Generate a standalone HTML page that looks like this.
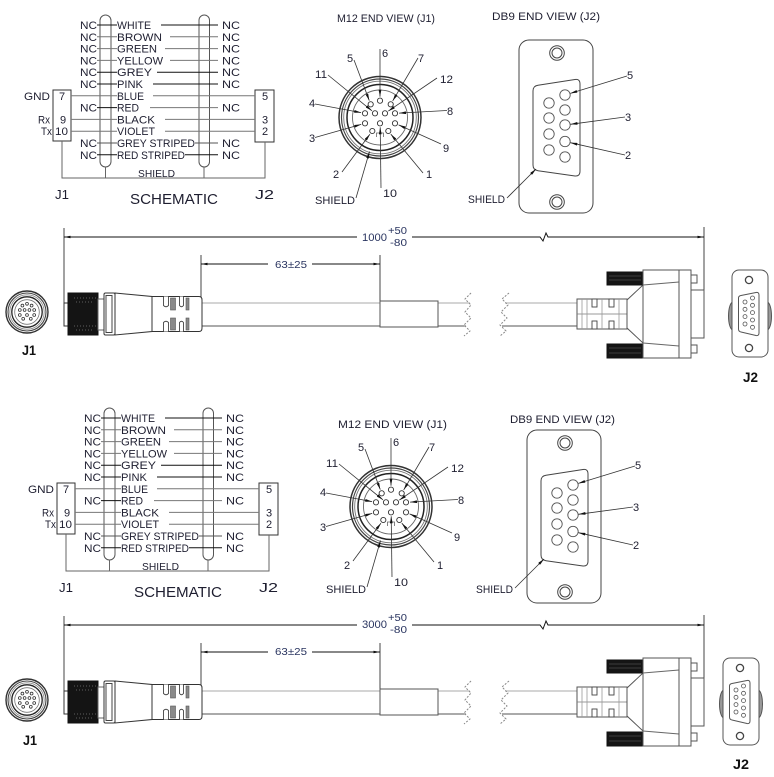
<!DOCTYPE html>
<html><head><meta charset="utf-8">
<style>
html,body{margin:0;padding:0;background:#fff;}
svg{display:block;}
text{font-family:"Liberation Sans",sans-serif;fill:#1e1e30;}
.b{font-weight:bold;fill:#111;}
.d{fill:#2a3560;}
</style></head><body>
<svg width="774" height="777" viewBox="0 0 774 777" xmlns="http://www.w3.org/2000/svg">
<defs>
<marker id="la" viewBox="0 0 10 4" refX="10" refY="2" markerWidth="7" markerHeight="2.8" markerUnits="userSpaceOnUse" orient="auto"><path d="M0,0L10,2L0,4z" fill="#111"/></marker>
<marker id="da" viewBox="0 0 10 4" refX="10" refY="2" markerWidth="8" markerHeight="2.6" markerUnits="userSpaceOnUse" orient="auto"><path d="M0,0L10,2L0,4z" fill="#111"/></marker>
</defs>

<!-- ================= SCHEMATIC LINES (top) ================= -->
<g id="schl" fill="none" stroke="#333" stroke-width="1">
 <rect x="100" y="15" width="11" height="152" rx="5.5" stroke="#555"/>
 <rect x="199" y="15" width="10.5" height="152" rx="5.25" stroke="#555"/>
 <rect x="53" y="90" width="18" height="51"/>
 <rect x="255" y="90" width="19" height="52"/>
 <polyline points="62,141 62,178 265,178 265,142" stroke="#666"/>
 <line x1="105.5" y1="167" x2="105.5" y2="178" stroke="#666"/>
 <line x1="204" y1="167" x2="204" y2="178" stroke="#666"/>
 <line x1="97" y1="25" x2="117" y2="25" stroke="#111"/>
 <line x1="97" y1="36.8" x2="117" y2="36.8" stroke="#777"/>
 <line x1="97" y1="48.6" x2="117" y2="48.6" stroke="#777"/>
 <line x1="97" y1="60.4" x2="117" y2="60.4" stroke="#777"/>
 <line x1="97" y1="72.2" x2="117" y2="72.2" stroke="#111"/>
 <line x1="97" y1="84" x2="117" y2="84" stroke="#111"/>
 <line x1="71" y1="95.8" x2="117" y2="95.8" stroke="#777"/>
 <line x1="97" y1="107.6" x2="117" y2="107.6" stroke="#111"/>
 <line x1="71" y1="119.4" x2="117" y2="119.4" stroke="#777"/>
 <line x1="71" y1="131.2" x2="117" y2="131.2" stroke="#777"/>
 <line x1="97" y1="143" x2="117" y2="143" stroke="#555"/>
 <line x1="97" y1="154.8" x2="117" y2="154.8" stroke="#111"/>
 <line x1="161" y1="25" x2="218" y2="25" stroke="#111"/>
 <line x1="170" y1="36.8" x2="218" y2="36.8" stroke="#777"/>
 <line x1="165" y1="48.6" x2="218" y2="48.6" stroke="#777"/>
 <line x1="170" y1="60.4" x2="218" y2="60.4" stroke="#777"/>
 <line x1="157" y1="72.2" x2="218" y2="72.2" stroke="#111"/>
 <line x1="153" y1="84" x2="218" y2="84" stroke="#111"/>
 <line x1="153" y1="95.8" x2="255" y2="95.8" stroke="#777"/>
 <line x1="150" y1="107.6" x2="218" y2="107.6" stroke="#777"/>
 <line x1="165" y1="119.4" x2="255" y2="119.4" stroke="#777"/>
 <line x1="165" y1="131.2" x2="255" y2="131.2" stroke="#777"/>
 <line x1="195" y1="143" x2="218" y2="143" stroke="#555"/>
 <line x1="185" y1="154.8" x2="218" y2="154.8" stroke="#111"/>
</g>
<use href="#schl" transform="translate(4,393)"/>

<g font-size="11">
 <text x="80" y="29" textLength="17" lengthAdjust="spacingAndGlyphs">NC</text>
 <text x="80" y="40.8" textLength="17" lengthAdjust="spacingAndGlyphs">NC</text>
 <text x="80" y="52.6" textLength="17" lengthAdjust="spacingAndGlyphs">NC</text>
 <text x="80" y="64.4" textLength="17" lengthAdjust="spacingAndGlyphs">NC</text>
 <text x="80" y="76.2" textLength="17" lengthAdjust="spacingAndGlyphs">NC</text>
 <text x="80" y="88" textLength="17" lengthAdjust="spacingAndGlyphs">NC</text>
 <text x="80" y="111.6" textLength="17" lengthAdjust="spacingAndGlyphs">NC</text>
 <text x="80" y="147" textLength="17" lengthAdjust="spacingAndGlyphs">NC</text>
 <text x="80" y="158.8" textLength="17" lengthAdjust="spacingAndGlyphs">NC</text>
 <text x="117" y="29" textLength="34" lengthAdjust="spacingAndGlyphs">WHITE</text>
 <text x="117" y="40.8" textLength="45" lengthAdjust="spacingAndGlyphs">BROWN</text>
 <text x="117" y="52.6" textLength="40" lengthAdjust="spacingAndGlyphs">GREEN</text>
 <text x="117" y="64.4" textLength="46" lengthAdjust="spacingAndGlyphs">YELLOW</text>
 <text x="117" y="76.2" textLength="35" lengthAdjust="spacingAndGlyphs">GREY</text>
 <text x="117" y="88" textLength="26" lengthAdjust="spacingAndGlyphs">PINK</text>
 <text x="117" y="99.8" textLength="27" lengthAdjust="spacingAndGlyphs">BLUE</text>
 <text x="117" y="111.6" textLength="22" lengthAdjust="spacingAndGlyphs">RED</text>
 <text x="117" y="123.4" textLength="38" lengthAdjust="spacingAndGlyphs">BLACK</text>
 <text x="117" y="135.2" textLength="38" lengthAdjust="spacingAndGlyphs">VIOLET</text>
 <text x="117" y="147" textLength="78" lengthAdjust="spacingAndGlyphs">GREY STRIPED</text>
 <text x="117" y="158.8" textLength="68" lengthAdjust="spacingAndGlyphs">RED STRIPED</text>
 <text x="222" y="29" textLength="18" lengthAdjust="spacingAndGlyphs">NC</text>
 <text x="222" y="40.8" textLength="18" lengthAdjust="spacingAndGlyphs">NC</text>
 <text x="222" y="52.6" textLength="18" lengthAdjust="spacingAndGlyphs">NC</text>
 <text x="222" y="64.4" textLength="18" lengthAdjust="spacingAndGlyphs">NC</text>
 <text x="222" y="76.2" textLength="18" lengthAdjust="spacingAndGlyphs">NC</text>
 <text x="222" y="88" textLength="18" lengthAdjust="spacingAndGlyphs">NC</text>
 <text x="222" y="111.6" textLength="18" lengthAdjust="spacingAndGlyphs">NC</text>
 <text x="222" y="147" textLength="18" lengthAdjust="spacingAndGlyphs">NC</text>
 <text x="222" y="158.8" textLength="18" lengthAdjust="spacingAndGlyphs">NC</text>
 <text x="24" y="99.8" textLength="26" lengthAdjust="spacingAndGlyphs">GND</text>
 <text x="59" y="99.8">7</text>
 <text x="38" y="123.4" textLength="12" lengthAdjust="spacingAndGlyphs">Rx</text>
 <text x="60" y="123.4">9</text>
 <text x="41" y="135.2" textLength="11" lengthAdjust="spacingAndGlyphs">Tx</text>
 <text x="55" y="135.2" textLength="13" lengthAdjust="spacingAndGlyphs">10</text>
 <text x="262" y="99.8">5</text>
 <text x="262" y="123.4">3</text>
 <text x="262" y="135.2">2</text>
 <text x="138" y="177" font-size="10" textLength="37" lengthAdjust="spacingAndGlyphs">SHIELD</text>
 <text x="55" y="199" font-size="13" textLength="14" lengthAdjust="spacingAndGlyphs">J1</text>
 <text x="255" y="199" font-size="13" textLength="19" lengthAdjust="spacingAndGlyphs">J2</text>
 <text x="130" y="204" font-size="15" textLength="88" lengthAdjust="spacingAndGlyphs">SCHEMATIC</text>
</g>

<g font-size="11" transform="translate(4,393)">
 <text x="80" y="29" textLength="17" lengthAdjust="spacingAndGlyphs">NC</text>
 <text x="80" y="40.8" textLength="17" lengthAdjust="spacingAndGlyphs">NC</text>
 <text x="80" y="52.6" textLength="17" lengthAdjust="spacingAndGlyphs">NC</text>
 <text x="80" y="64.4" textLength="17" lengthAdjust="spacingAndGlyphs">NC</text>
 <text x="80" y="76.2" textLength="17" lengthAdjust="spacingAndGlyphs">NC</text>
 <text x="80" y="88" textLength="17" lengthAdjust="spacingAndGlyphs">NC</text>
 <text x="80" y="111.6" textLength="17" lengthAdjust="spacingAndGlyphs">NC</text>
 <text x="80" y="147" textLength="17" lengthAdjust="spacingAndGlyphs">NC</text>
 <text x="80" y="158.8" textLength="17" lengthAdjust="spacingAndGlyphs">NC</text>
 <text x="117" y="29" textLength="34" lengthAdjust="spacingAndGlyphs">WHITE</text>
 <text x="117" y="40.8" textLength="45" lengthAdjust="spacingAndGlyphs">BROWN</text>
 <text x="117" y="52.6" textLength="40" lengthAdjust="spacingAndGlyphs">GREEN</text>
 <text x="117" y="64.4" textLength="46" lengthAdjust="spacingAndGlyphs">YELLOW</text>
 <text x="117" y="76.2" textLength="35" lengthAdjust="spacingAndGlyphs">GREY</text>
 <text x="117" y="88" textLength="26" lengthAdjust="spacingAndGlyphs">PINK</text>
 <text x="117" y="99.8" textLength="27" lengthAdjust="spacingAndGlyphs">BLUE</text>
 <text x="117" y="111.6" textLength="22" lengthAdjust="spacingAndGlyphs">RED</text>
 <text x="117" y="123.4" textLength="38" lengthAdjust="spacingAndGlyphs">BLACK</text>
 <text x="117" y="135.2" textLength="38" lengthAdjust="spacingAndGlyphs">VIOLET</text>
 <text x="117" y="147" textLength="78" lengthAdjust="spacingAndGlyphs">GREY STRIPED</text>
 <text x="117" y="158.8" textLength="68" lengthAdjust="spacingAndGlyphs">RED STRIPED</text>
 <text x="222" y="29" textLength="18" lengthAdjust="spacingAndGlyphs">NC</text>
 <text x="222" y="40.8" textLength="18" lengthAdjust="spacingAndGlyphs">NC</text>
 <text x="222" y="52.6" textLength="18" lengthAdjust="spacingAndGlyphs">NC</text>
 <text x="222" y="64.4" textLength="18" lengthAdjust="spacingAndGlyphs">NC</text>
 <text x="222" y="76.2" textLength="18" lengthAdjust="spacingAndGlyphs">NC</text>
 <text x="222" y="88" textLength="18" lengthAdjust="spacingAndGlyphs">NC</text>
 <text x="222" y="111.6" textLength="18" lengthAdjust="spacingAndGlyphs">NC</text>
 <text x="222" y="147" textLength="18" lengthAdjust="spacingAndGlyphs">NC</text>
 <text x="222" y="158.8" textLength="18" lengthAdjust="spacingAndGlyphs">NC</text>
 <text x="24" y="99.8" textLength="26" lengthAdjust="spacingAndGlyphs">GND</text>
 <text x="59" y="99.8">7</text>
 <text x="38" y="123.4" textLength="12" lengthAdjust="spacingAndGlyphs">Rx</text>
 <text x="60" y="123.4">9</text>
 <text x="41" y="135.2" textLength="11" lengthAdjust="spacingAndGlyphs">Tx</text>
 <text x="55" y="135.2" textLength="13" lengthAdjust="spacingAndGlyphs">10</text>
 <text x="262" y="99.8">5</text>
 <text x="262" y="123.4">3</text>
 <text x="262" y="135.2">2</text>
 <text x="138" y="177" font-size="10" textLength="37" lengthAdjust="spacingAndGlyphs">SHIELD</text>
 <text x="55" y="199" font-size="13" textLength="14" lengthAdjust="spacingAndGlyphs">J1</text>
 <text x="255" y="199" font-size="13" textLength="19" lengthAdjust="spacingAndGlyphs">J2</text>
 <text x="130" y="204" font-size="15" textLength="88" lengthAdjust="spacingAndGlyphs">SCHEMATIC</text>
</g>

<!-- ================= M12 END VIEW ================= -->
<g id="m12" fill="none" stroke="#333" stroke-width="1">
 <circle cx="380" cy="117.5" r="41" stroke-width="1.5"/>
 <circle cx="380" cy="117.5" r="38.5" stroke="#444" stroke-width="1.2"/>
 <circle cx="380" cy="117.5" r="36.3" stroke="#777" stroke-width="0.9"/>
 <circle cx="380" cy="117.5" r="33" stroke="#222" stroke-width="1.5"/>
 <circle cx="380" cy="117.5" r="27.5" stroke="#666" stroke-width="0.9"/>
 <path d="M376.5,137 V133 H383.5 V137" stroke="#666" stroke-width="0.8"/>
 <g stroke="#333" stroke-width="0.9">
  <circle cx="380" cy="100.7" r="2.6"/><circle cx="370.7" cy="104.3" r="2.6"/><circle cx="390.7" cy="104.3" r="2.6"/>
  <circle cx="365" cy="113.3" r="2.6"/><circle cx="375" cy="113.3" r="2.6"/><circle cx="385" cy="113.3" r="2.6"/><circle cx="395" cy="113.3" r="2.6"/>
  <circle cx="365" cy="123.3" r="2.6"/><circle cx="380" cy="123.3" r="2.6"/><circle cx="395" cy="123.3" r="2.6"/>
  <circle cx="372.3" cy="131" r="2.6"/><circle cx="388.3" cy="131" r="2.6"/>
 </g>
 <g stroke="#333" stroke-width="0.8" marker-end="url(#la)">
  <path d="M354,60L369.3,100.6"/>
  <path d="M380,49L380,96.7"/>
  <path d="M418,58L392.7,100.9"/>
  <path d="M328,75L371.9,110.8"/>
  <path d="M437,78L388.3,111.1"/>
  <path d="M315,104L361.1,112.6"/>
  <path d="M447,110.5L399,113.1"/>
  <path d="M315,137.5L361.2,124.4"/>
  <path d="M441,144L398.6,124.9"/>
  <path d="M342,172L369.9,134.2"/>
  <path d="M381,188L380.2,127.3"/>
  <path d="M423,173L390.8,134.1"/>
  <path d="M356,198L369.5,151.5"/>
 </g>
</g>
<use href="#m12" transform="translate(11,389)"/>

<g font-size="11">
 <text x="337" y="22" textLength="98" lengthAdjust="spacingAndGlyphs">M12 END VIEW (J1)</text>
 <text x="347" y="62">5</text><text x="382" y="57">6</text><text x="418" y="62">7</text>
 <text x="315" y="78" textLength="12" lengthAdjust="spacingAndGlyphs">11</text><text x="440" y="83" textLength="13" lengthAdjust="spacingAndGlyphs">12</text>
 <text x="309" y="107">4</text><text x="447" y="115">8</text>
 <text x="309" y="142">3</text><text x="443" y="152">9</text>
 <text x="333" y="178">2</text><text x="383" y="197" textLength="14" lengthAdjust="spacingAndGlyphs">10</text><text x="426" y="178">1</text>
 <text x="315" y="204" textLength="40" lengthAdjust="spacingAndGlyphs">SHIELD</text>
</g>
<g font-size="11">
 <text x="338" y="428" textLength="109" lengthAdjust="spacingAndGlyphs">M12 END VIEW (J1)</text>
</g>
<g font-size="11" transform="translate(11,389)">
 <text x="347" y="62">5</text><text x="382" y="57">6</text><text x="418" y="62">7</text>
 <text x="315" y="78" textLength="12" lengthAdjust="spacingAndGlyphs">11</text><text x="440" y="83" textLength="13" lengthAdjust="spacingAndGlyphs">12</text>
 <text x="309" y="107">4</text><text x="447" y="115">8</text>
 <text x="309" y="142">3</text><text x="443" y="152">9</text>
 <text x="333" y="180">2</text><text x="383" y="197" textLength="14" lengthAdjust="spacingAndGlyphs">10</text><text x="426" y="180">1</text>
 <text x="315" y="204" textLength="40" lengthAdjust="spacingAndGlyphs">SHIELD</text>
</g>

<!-- ================= DB9 END VIEW ================= -->
<g id="db9" fill="none" stroke="#444" stroke-width="1">
 <rect x="519" y="40" width="74" height="173" rx="10"/>
 <circle cx="557" cy="53" r="7.3"/><circle cx="557" cy="53" r="5"/>
 <circle cx="557" cy="202" r="7.3"/><circle cx="557" cy="202" r="5"/>
 <path d="M538,85.3 L575,79.5 Q580,78.7 580,84 V171 Q580,176.5 575,176 L538,170.7 Q533,170 533,165 V91 Q533,86 538,85.3Z"/>
 <g stroke="#555" stroke-width="0.9">
  <circle cx="565" cy="95" r="5.2"/><circle cx="565" cy="110" r="5.2"/><circle cx="565" cy="125" r="5.2"/><circle cx="565" cy="141.5" r="5.2"/><circle cx="565" cy="157" r="5.2"/>
  <circle cx="549" cy="103" r="5.2"/><circle cx="549" cy="118" r="5.2"/><circle cx="549" cy="134" r="5.2"/><circle cx="549" cy="150" r="5.2"/>
 </g>
 <g stroke="#333" stroke-width="0.8" marker-end="url(#la)">
  <path d="M627,76L570.3,93.4"/>
  <path d="M625,117L570.5,124.3"/>
  <path d="M625,155L570.4,142.7"/>
  <path d="M507,198L536,169"/>
 </g>
</g>
<use href="#db9" transform="translate(8,390)"/>

<g font-size="11">
 <text x="492" y="20" textLength="108" lengthAdjust="spacingAndGlyphs">DB9 END VIEW (J2)</text>
 <text x="627" y="79">5</text><text x="625" y="121">3</text><text x="625" y="159">2</text>
 <text x="468" y="203" textLength="37" lengthAdjust="spacingAndGlyphs">SHIELD</text>
</g>
<g font-size="11">
 <text x="510" y="423" textLength="105" lengthAdjust="spacingAndGlyphs">DB9 END VIEW (J2)</text>
</g>
<g font-size="11" transform="translate(8,390)">
 <text x="627" y="79">5</text><text x="625" y="121">3</text><text x="625" y="159">2</text>
 <text x="468" y="203" textLength="37" lengthAdjust="spacingAndGlyphs">SHIELD</text>
</g>

<!-- ================= CABLE ================= -->
<g id="cab" fill="none" stroke="#333" stroke-width="1">
 <g transform="translate(27,312)">
  <circle r="21" stroke-width="1.4"/>
  <circle r="19" stroke="#444" stroke-width="1.1"/>
  <circle r="17.2" stroke="#888" stroke-width="0.8"/>
  <circle r="15.2" stroke="#222" stroke-width="1.3"/>
  <circle r="12.3" stroke="#777" stroke-width="0.8"/>
  <g stroke="#333" stroke-width="0.8">
   <circle cx="0" cy="-8.2" r="1.4"/><circle cx="-4.6" cy="-6.4" r="1.4"/><circle cx="4.6" cy="-6.4" r="1.4"/>
   <circle cx="-7.2" cy="-2" r="1.4"/><circle cx="-2.4" cy="-2" r="1.4"/><circle cx="2.4" cy="-2" r="1.4"/><circle cx="7.2" cy="-2" r="1.4"/>
   <circle cx="-7.2" cy="3" r="1.4"/><circle cx="0" cy="3" r="1.4"/><circle cx="7.2" cy="3" r="1.4"/>
   <circle cx="-3.8" cy="6.8" r="1.4"/><circle cx="3.8" cy="6.8" r="1.4"/>
  </g>
 </g>
 <line x1="64" y1="228" x2="64" y2="326" stroke="#444"/>
 <line x1="704" y1="227" x2="704" y2="338" stroke="#444"/>
 <path d="M357,237H64" marker-end="url(#da)" stroke="#111"/>
 <path d="M412,237H540L543,241L546,233L548,237H704" marker-end="url(#da)" stroke="#111"/>
 <line x1="201" y1="255" x2="201" y2="298" stroke="#444"/>
 <line x1="380" y1="255" x2="380" y2="302" stroke="#444"/>
 <path d="M268,264H201" marker-end="url(#da)" stroke="#111"/>
 <path d="M312,264H380" marker-end="url(#da)" stroke="#111"/>
 <line x1="202" y1="303" x2="470" y2="303" stroke="#aaa"/>
 <line x1="202" y1="326" x2="466" y2="326" stroke="#555"/>
 <line x1="505" y1="303" x2="577" y2="303" stroke="#aaa"/>
 <line x1="502" y1="326" x2="577" y2="326" stroke="#555"/>
 <rect x="380" y="301" width="58" height="26" fill="#fff" stroke="#555"/>
 <path d="M471,293L465,299L471,305L465,312L471,318L464,325L470,331L464,336" stroke="#888" stroke-dasharray="2,1.5"/>
 <path d="M509,293L502,299L508,305L501,312L507,318L500,325L506,331L500,336" stroke="#888" stroke-dasharray="2,1.5"/>
 <rect x="64" y="303" width="4" height="23"/>
 <rect x="68" y="293" width="30" height="42" fill="#141414" stroke="#111"/>
 <g stroke="#777" stroke-width="0.8" stroke-dasharray="1,2">
  <line x1="74" y1="298" x2="96" y2="298"/><line x1="76" y1="302" x2="94" y2="302"/>
  <line x1="74" y1="326" x2="96" y2="326"/><line x1="76" y1="330" x2="94" y2="330"/>
 </g>
 <rect x="98" y="299" width="6" height="31" fill="#fff" stroke="#666"/>
 <rect x="104" y="293" width="11" height="42" rx="1.5" fill="#fff"/>
 <rect x="106" y="295.5" width="6" height="37" fill="#fff" stroke="#444"/>
 <path d="M115,293L152,296.5V331.5L115,335Z" fill="#fff"/>
 <path d="M152,296.5H199Q202,296.5 202,300V328Q202,331.5 199,331.5H152Z" fill="#fff"/>
 <g fill="#fff" stroke="#444" stroke-width="0.9">
  <path d="M163.5,296.5V305.5Q166,308 168.5,305.5V296.5"/>
  <path d="M163.5,331.5V322.5Q166,320 168.5,322.5V331.5"/>
  <path d="M179.5,296.5V305.5Q181.5,308 183.5,305.5V296.5"/>
  <path d="M179.5,331.5V322.5Q181.5,320 183.5,322.5V331.5"/>
 </g>
 <g fill="#8a8a8a" stroke="#555" stroke-width="0.6">
  <rect x="170.5" y="298" width="5" height="12"/><rect x="170.5" y="318" width="5" height="12"/>
  <rect x="186" y="298" width="3" height="12"/><rect x="186" y="318" width="3" height="12"/>
 </g>
 <rect x="577" y="299" width="50" height="30" fill="#fff" stroke="#555"/>
 <line x1="577" y1="314" x2="627" y2="314" stroke="#777" stroke-width="0.8"/>
 <g fill="#fff" stroke="#444" stroke-width="0.9">
  <rect x="592" y="299" width="5" height="8"/><rect x="592" y="321" width="5" height="8"/>
  <rect x="609" y="299" width="5" height="8"/><rect x="609" y="321" width="5" height="8"/>
 </g>
 <g stroke="#999" stroke-width="0.8">
  <line x1="582" y1="299" x2="582" y2="329"/><line x1="587" y1="299" x2="587" y2="329"/>
  <line x1="602" y1="299" x2="602" y2="329"/><line x1="619" y1="299" x2="619" y2="329"/>
 </g>
 <path d="M627,300L643,285V343L627,328Z" fill="#fff" stroke="#555"/>
 <rect x="607" y="272" width="36" height="13" fill="#151515" stroke="#111"/>
 <rect x="607" y="344" width="36" height="14" fill="#151515" stroke="#111"/>
 <g stroke="#666" stroke-width="0.6">
  <line x1="609" y1="276" x2="641" y2="276"/><line x1="609" y1="280" x2="641" y2="280"/>
  <line x1="609" y1="348" x2="641" y2="348"/><line x1="609" y1="353" x2="641" y2="353"/>
 </g>
 <rect x="643" y="270" width="36" height="88" fill="#fff" stroke="#555"/>
 <line x1="643" y1="285" x2="679" y2="282" stroke="#666"/>
 <line x1="643" y1="343" x2="679" y2="346" stroke="#666"/>
 <rect x="679" y="270" width="12" height="88" fill="#fff" stroke="#555"/>
 <rect x="691" y="275" width="6" height="8" fill="#fff" stroke="#555"/>
 <rect x="691" y="345" width="6" height="8" fill="#fff" stroke="#555"/>
 <rect x="691" y="290" width="13" height="48" fill="#fff" stroke="#555"/>
</g>
<use href="#cab" transform="translate(0,388)"/>

<g id="j2e" fill="none" stroke="#444" stroke-width="1">
 <ellipse cx="733" cy="316" rx="4.5" ry="14" fill="#9a9a9a" stroke="#555"/>
 <ellipse cx="767" cy="316" rx="4.5" ry="14" fill="#9a9a9a" stroke="#555"/>
 <rect x="732" y="270" width="36" height="87" rx="7" fill="#fff" stroke="#555"/>
 <circle cx="749" cy="280" r="3.6" stroke-width="1.3"/>
 <circle cx="749" cy="348" r="3.6" stroke-width="1.3"/>
 <path d="M741,295.5L756,292.5Q759,292 759,295V333Q759,336 756,335.5L741,332Q738.5,331.5 738.5,329V298Q738.5,296 741,295.5Z" stroke="#555"/>
 <g stroke="#555" stroke-width="0.8">
  <circle cx="752.5" cy="298" r="2"/><circle cx="752.5" cy="305.3" r="2"/><circle cx="752.5" cy="312.6" r="2"/><circle cx="752.5" cy="320" r="2"/><circle cx="752.5" cy="327.3" r="2"/>
  <circle cx="745" cy="302" r="2"/><circle cx="745" cy="309.3" r="2"/><circle cx="745" cy="316.6" r="2"/><circle cx="745" cy="324" r="2"/>
 </g>
</g>
<use href="#j2e" transform="translate(-9,388)"/>

<g>
 <text class="b" x="22" y="355" font-size="14" textLength="14" lengthAdjust="spacingAndGlyphs">J1</text>
 <text class="b" x="743" y="382" font-size="14" textLength="15" lengthAdjust="spacingAndGlyphs">J2</text>
 <text class="d" x="362" y="241" font-size="11" textLength="25" lengthAdjust="spacingAndGlyphs">1000</text>
 <text class="d" x="388" y="234" font-size="10" textLength="19" lengthAdjust="spacingAndGlyphs">+50</text>
 <text class="d" x="390" y="246" font-size="10" textLength="17" lengthAdjust="spacingAndGlyphs">-80</text>
 <text class="d" x="275" y="268" font-size="10.5" textLength="32" lengthAdjust="spacingAndGlyphs">63±25</text>
</g>
<g>
 <text class="b" x="23" y="745" font-size="14" textLength="14" lengthAdjust="spacingAndGlyphs">J1</text>
 <text class="b" x="733" y="769" font-size="14" textLength="16" lengthAdjust="spacingAndGlyphs">J2</text>
 <text class="d" x="362" y="628" font-size="11" textLength="25" lengthAdjust="spacingAndGlyphs">3000</text>
 <text class="d" x="388" y="621" font-size="10" textLength="19" lengthAdjust="spacingAndGlyphs">+50</text>
 <text class="d" x="390" y="633" font-size="10" textLength="17" lengthAdjust="spacingAndGlyphs">-80</text>
 <text class="d" x="275" y="655" font-size="10.5" textLength="32" lengthAdjust="spacingAndGlyphs">63±25</text>
</g>
</svg>
</body></html>
